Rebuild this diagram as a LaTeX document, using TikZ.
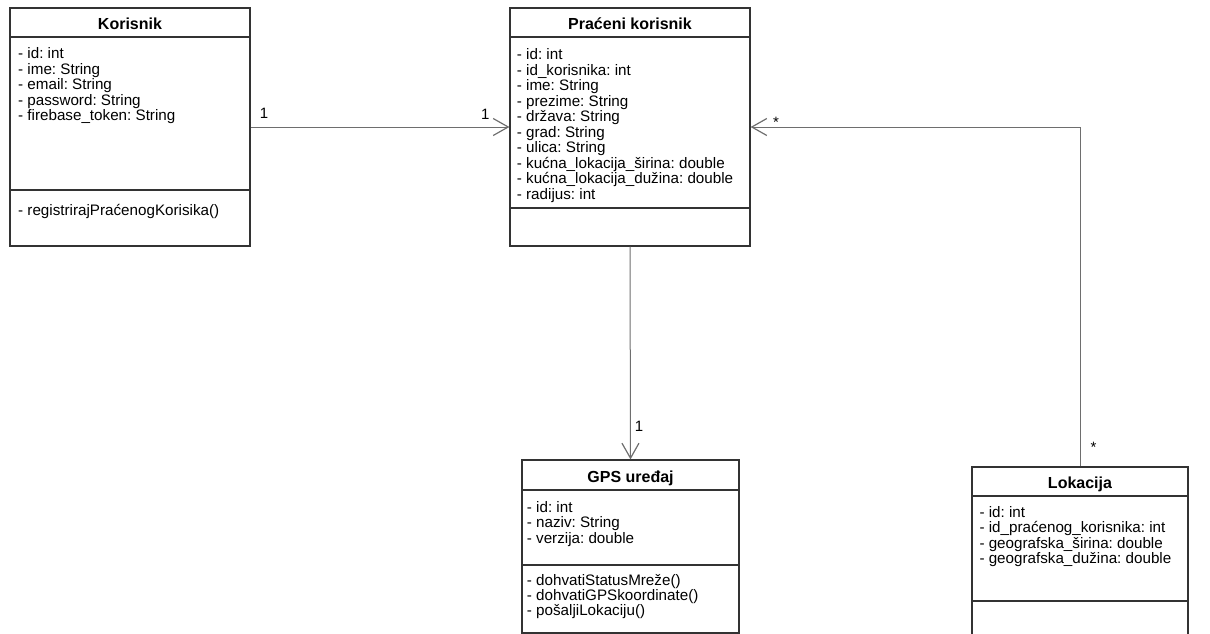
\documentclass[tikz,border=0pt]{standalone}
\usepackage{fontspec}
\setmainfont{Liberation Sans}
\usetikzlibrary{arrows.meta}
\definecolor{boxgray}{HTML}{333333}
\definecolor{linegray}{HTML}{6E6E6E}
\frenchspacing

\begin{document}
\begin{tikzpicture}
	[
	x=1pt, y=-1pt,
	box/.style={draw=boxgray, line width=1.2pt, fill=white, inner sep=0pt},
	sep/.style={draw=boxgray, line width=1.2pt},
	title/.style={font=\fontsize{16}{16}\selectfont\bfseries, inner sep=0pt, anchor=base},
	members/.style={font=\fontsize{15.2}{15.5}\selectfont, align=left, inner sep=0pt, anchor=north west},
	mult/.style={font=\fontsize{15}{15}\selectfont, inner sep=0pt, anchor=base west},
	assoc/.style={draw=linegray, line width=1pt, -{Straight Barb[length=15pt,width=17pt,line width=1.2pt]}},
	]
		\useasboundingbox (0,0) rectangle (1210,634);
		\clip (0,0) rectangle (1210,634);

		% Korisnik
		\node[box, minimum width=240, minimum height=238] (kor) at (130,127) {};
		\node[title] (kort) at (130,30) {Korisnik};
		\node[members] (kora) at (18,47.5) {- id: int\\- ime: String\\- email: String\\- password: String\\- firebase\_token: String};
		\node[members] (korm) at (18,204) {- registrirajPraćenogKorisika()};

		% Praćeni korisnik
		\node[box, minimum width=240, minimum height=238] (pk) at (630,127) {};
		\node[title] (pkt) at (630,30) {Praćeni korisnik};
		\node[members] (pka) at (516.7,48.5) {- id: int\\- id\_korisnika: int\\- ime: String\\- prezime: String\\- država: String\\- grad: String\\- ulica: String\\- kućna\_lokacija\_širina: double\\- kućna\_lokacija\_dužina: double\\- radijus: int};

		% GPS uređaj
		\node[box, minimum width=217, minimum height=173] (gps) at (630.5,546.5) {};
		\node[title] (gpst) at (630.5,482) {GPS uređaj};
		\node[members] (gpsa) at (526.7,500.8) {- id: int\\- naziv: String\\- verzija: double};
		\node[members, font=\fontsize{15.2}{14.7}\selectfont] (gpsm) at (526.7,574.5) {- dohvatiStatusMreže()\\- dohvatiGPSkoordinate()\\- pošaljiLokaciju()};

		% Lokacija
		\node[box, minimum width=216, minimum height=200] (lok) at (1080,567) {};
		\node[title] (lokt) at (1080,488.5) {Lokacija};
		\node[members] (loka) at (979.3,505.8) {- id: int\\- id\_praćenog\_korisnika: int\\- geografska\_širina: double\\- geografska\_dužina: double};

		\foreach \l/\r/\y in {10/250/37,10/250/190,510/750/37,510/750/208,522/739/490,522/739/565,972/1188/496,972/1188/601}
			\draw[sep] (\l,\y) -- (\r,\y);

		% associations
		\draw[assoc] (kor.east) -- (pk.west)
			node[mult, at start, xshift=8.8pt, yshift=8.3pt] {1}
			node[mult, at end, xshift=-28.7pt, yshift=7.3pt] {1};
		\draw[assoc] (pk.south) -- (gps.north)
			node[mult, at end, xshift=3.9pt, yshift=27.6pt] {1};
		\draw[assoc] (lok.north) |- (pk.east)
			node[mult, at start, xshift=10pt, yshift=13.5pt] {*}
			node[mult, at end, xshift=22pt, yshift=0pt] {*};
	\end{tikzpicture}
\end{document}
